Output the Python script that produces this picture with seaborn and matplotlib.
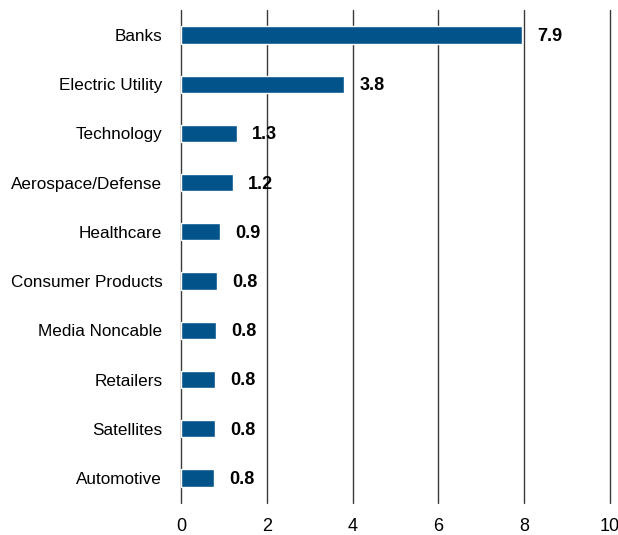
import seaborn as sns
import matplotlib.pyplot as plt
import pandas as pd

# Values
sectors = ['Banks', 'Electric Utility', 'Technology', 'Aerospace/Defense', 'Healthcare',
           'Consumer Products', 'Media Noncable', 'Retailers', 'Satellites', 'Automotive']
values = [7.94, 3.80, 1.30, 1.21, 0.92, 0.85, 0.82, 0.80, 0.79, 0.78]
labels = ['7.9', '3.8', '1.3', '1.2', '0.9', '0.8', '0.8', '0.8', '0.8', '0.8']
xticks = [0, 2, 4, 6, 8, 10]

df = pd.DataFrame({'sector': sectors, 'value': values})

sns.set_style('white')
plt.rcParams['font.family'] = ['Liberation Sans Narrow', 'Liberation Sans', 'DejaVu Sans']
plt.rcParams['text.color'] = 'black'
plt.rcParams['xtick.color'] = 'black'
plt.rcParams['ytick.color'] = 'black'

fig = plt.figure(figsize=(6.18, 5.35), dpi=100)
ax = fig.add_axes([0.2929, 0.0606, 0.694, 0.92])

sns.barplot(data=df, x='value', y='sector', orient='h', color='#02538a',
            width=0.35, saturation=1, ax=ax, zorder=3)

# value labels
for i, (v, lab) in enumerate(zip(values, labels)):
    ax.annotate(lab, xy=(v, i), xytext=(11, -1), textcoords='offset points',
                va='center', ha='left', fontsize=13, fontweight='bold', color='black')

ax.set_xlim(0, 10)
ax.set_ylim(9.5, -0.5)
ax.set_xticks(xticks)
ax.set_xticklabels([str(t) for t in xticks], fontsize=13)
ax.tick_params(axis='both', length=0)
ax.tick_params(axis='y', labelsize=12.3, pad=13.5)
ax.tick_params(axis='x', pad=11)
ax.set_xlabel('')
ax.set_ylabel('')
for t in xticks:
    ax.axvline(t, color='#3a3a3a', lw=1.0, zorder=1, clip_on=False)
for s in ax.spines.values():
    s.set_visible(False)

fig.savefig('out.png', dpi=100)
